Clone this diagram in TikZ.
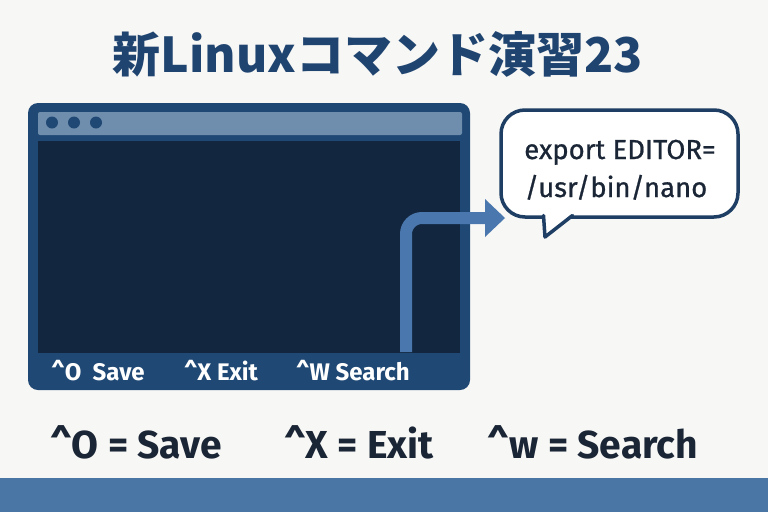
\documentclass[tikz,border=0pt]{standalone}
\usepackage{fontspec}
\setmainfont{Fira Sans}
\newfontfamily\medfont[FakeBold=0.8]{Fira Sans}
\newfontfamily\cjkfont{Noto Sans CJK JP}
\definecolor{bgc}{HTML}{F7F7F5}
\definecolor{titlec}{HTML}{1F4470}
\definecolor{framec}{HTML}{1F4874}
\definecolor{barc}{HTML}{6F8EAD}
\definecolor{screenc}{HTML}{13263F}
\definecolor{arrowc}{HTML}{4A78AE}
\definecolor{bubblec}{HTML}{1E3E63}
\definecolor{bandc}{HTML}{4A76A6}
\definecolor{textc}{HTML}{1A2535}
\tikzset{
  keylabel/.style={anchor=base, text=white, font=\fontsize{24}{28}\selectfont\bfseries, inner sep=0pt},
  caption/.style={anchor=base, text=textc, font=\fontsize{39}{43}\selectfont\bfseries, inner sep=0pt},
  bubbletext/.style={anchor=base, text=textc, font=\medfont\fontsize{27.5}{31}\selectfont, inner sep=0pt},
  dotc/.style={circle, fill=framec, minimum size=12pt, inner sep=0pt},
}
\begin{document}
\begin{tikzpicture}[x=1pt,y=-1pt]
\fill[bgc] (0,0) rectangle (768,512);
\useasboundingbox (0,0) rectangle (768,512);
% bottom band
\fill[bandc] (0,478) rectangle (768,512);
% title
\node[anchor=base, text=titlec, font=\cjkfont\fontsize{48}{52}\selectfont\bfseries, inner sep=0pt] (title) at (378,72) {新Linuxコマンド演習23};
% terminal window
\node[draw=none, fill=framec, rounded corners=10pt, minimum width=442pt, minimum height=287pt, inner sep=0pt] (term) at (249,246.5) {};
\node[fill=barc, minimum width=424pt, minimum height=23pt, inner sep=0pt, rounded corners=2pt] (bar) at (250,123.5) {};
\node[dotc] (d1) at (52,122.5) {};
\node[dotc] (d2) at (74,122.5) {};
\node[dotc] (d3) at (96,122.5) {};
\node[fill=screenc, minimum width=422pt, minimum height=212pt, inner sep=0pt] (screen) at (249,247) {};
\node[keylabel] (k1) at (98,380) {\^{}O\ \ Save};
\node[keylabel] (k2) at (221,380) {\^{}X Exit};
\node[keylabel] (k3) at (353,380) {\^{}W Search};
% speech bubble
\node[draw=bubblec, line width=3.5pt, fill=white, rounded corners=24pt, minimum width=237pt, minimum height=107pt, inner sep=0pt] (bubble) at (619.5,163.5) {};
\fill[white] (543.5,212) -- (545,237) -- (574,212) -- cycle;
\draw[bubblec, line width=3.5pt, line join=round, line cap=round] (543.5,215.5) -- (545,237) -- (572.5,215.5);
\node[bubbletext] (b1) at (620,159) {export EDITOR=};
\node[bubbletext] (b2) at (616,197) {/usr/bin/nano};
% arrow
\coordinate (astart) at (406,352);
\coordinate (acorner) at (406,218);
\coordinate (aend) at (486,218);
\draw[arrowc, line width=12pt, rounded corners=16pt] (astart) -- (acorner) -- (aend);
\fill[arrowc] (485,199) -- (505,218) -- (485,237) -- cycle;
% captions
\node[caption] (c1) at (136,458) {\^{}O = Save};
\node[caption] (c2) at (359,458) {\^{}X = Exit};
\node[caption] (c3) at (593,458) {\^{}w = Search};
\end{tikzpicture}
\end{document}
